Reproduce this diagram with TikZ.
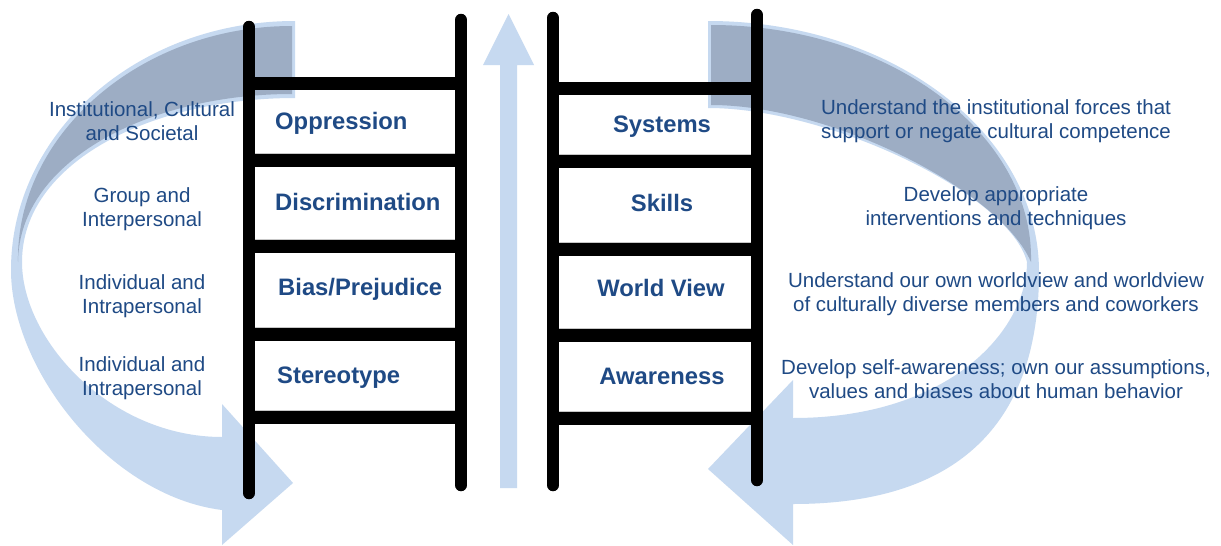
\documentclass[tikz,border=0pt]{standalone}
\usepackage{fontspec}
\setmainfont{Liberation Sans}
\definecolor{txtblue}{HTML}{1F4A85}
\definecolor{lightarrow}{HTML}{C6D9F0}
\definecolor{darkarrow}{HTML}{9DADC4}
\tikzset{
  rail/.style={line width=12.5pt, line cap=round, draw=black},
  rung/.style={line width=13pt, draw=black},
  ladderbox/.style={fill=white, draw=black!22, line width=1.2pt},
  steplabel/.style={font=\fontsize{23.8}{28}\selectfont\bfseries, text=txtblue, inner sep=0pt},
  sidetext/.style={font=\fontsize{20.5}{24}\selectfont, text=txtblue, align=center, inner sep=0pt},
  lightfill/.style={fill=lightarrow, draw=none},
  darkfill/.style={fill=darkarrow, draw=none}
}
\begin{document}
\begin{tikzpicture}[x=1pt,y=-1pt]
\useasboundingbox[fill=white] (0,0) rectangle (1221,546);

% ---------- ladder boxes ----------
\foreach \a/\b in {89.5/153.5, 166.5/239.5, 252.5/327.5, 340.5/410.5}
  \draw[ladderbox] (249,\a) rectangle (461,\b);
\foreach \a/\b in {94.5/154.5, 167.5/242.5, 255.5/328.5, 341.5/411.5}
  \draw[ladderbox] (553,\a) rectangle (757,\b);

% ---------- left curved arrow ----------
\fill[lightfill] (295,21) .. controls (137,21) and (11,133) .. (11,270)
   .. controls (11,370) and (110,496) .. (222,510)
   -- (222,545) -- (293,483) -- (222,404) -- (222,437)
   .. controls (110,437) and (22,340) .. (22,262)
   .. controls (22,162) and (152,98) .. (295,98) -- cycle;
\fill[darkfill] (292,26) .. controls (140,26) and (16,135) .. (18,262)
   .. controls (19,160) and (150,94) .. (292,94) -- cycle;

% ---------- right curved arrow ----------
\fill[lightfill] (708,21) .. controls (891,21) and (1039,133) .. (1039,272)
   .. controls (1039,440) and (940,504) .. (793,504)
   -- (793,545) -- (708,469) -- (793,380) -- (793,418)
   .. controls (950,418) and (1027,330) .. (1027,262)
   .. controls (1010,195) and (830,108) .. (708,108) -- cycle;
\fill[darkfill] (711,25) .. controls (891,25) and (1034,135) .. (1031,262)
   .. controls (1000,190) and (830,105) .. (711,105) -- cycle;

% ---------- middle arrow ----------
\fill[lightfill] (500,488) -- (500,65) -- (483,65) -- (508.5,14) -- (534,65)
   -- (517,65) -- (517,488) -- cycle;

% ---------- left ladder ----------
\coordinate (LLtop) at (249,27);  \coordinate (LLbot) at (249,493);
\coordinate (LRtop) at (461,20);  \coordinate (LRbot) at (461,485);
\foreach \y in {83,160,246,334,417}
  \draw[rung] (249,\y) -- (461,\y);
\draw[rail] (LLtop) -- (LLbot);
\draw[rail] (LRtop) -- (LRbot);

% ---------- right ladder ----------
\coordinate (RLtop) at (553,18);  \coordinate (RLbot) at (553,485);
\coordinate (RRtop) at (757,15);  \coordinate (RRbot) at (757,480);
\foreach \y in {88,161,249,335,418}
  \draw[rung] (553,\y) -- (757,\y);
\draw[rail] (RLtop) -- (RLbot);
\draw[rail] (RRtop) -- (RRbot);

% ---------- ladder labels ----------
\node[steplabel, anchor=base west] (opp)    at (275,129) {Oppression};
\node[steplabel, anchor=base west] (disc)   at (275,210) {Discrimination};
\node[steplabel, anchor=base west] (bias)   at (278,295) {Bias/Prejudice};
\node[steplabel, anchor=base west] (stereo) at (277,383) {Stereotype};

\node[steplabel, anchor=base] (sys)   at (662,132) {Systems};
\node[steplabel, anchor=base] (skill) at (662,211) {Skills};
\node[steplabel, anchor=base] (world) at (661,296) {World View};
\node[steplabel, anchor=base] (aware) at (662,384) {Awareness};

% ---------- side texts (anchor = baseline of the last line) ----------
\node[sidetext, anchor=base] (l1) at (142,140) {Institutional, Cultural\\and Societal};
\node[sidetext, anchor=base] (l2) at (142,226) {Group and\\Interpersonal};
\node[sidetext, anchor=base] (l3) at (142,313) {Individual and\\Intrapersonal};
\node[sidetext, anchor=base] (l4) at (142,395) {Individual and\\Intrapersonal};

\node[sidetext, anchor=base] (r1) at (996,138) {Understand the institutional forces that\\support or negate cultural competence};
\node[sidetext, anchor=base] (r2) at (996,225) {Develop appropriate\\interventions and techniques};
\node[sidetext, anchor=base] (r3) at (996,311) {Understand our own worldview and worldview\\of culturally diverse members and coworkers};
\node[sidetext, anchor=base] (r4) at (996,398) {Develop self-awareness; own our assumptions,\\values and biases about human behavior};
\end{tikzpicture}
\end{document}
